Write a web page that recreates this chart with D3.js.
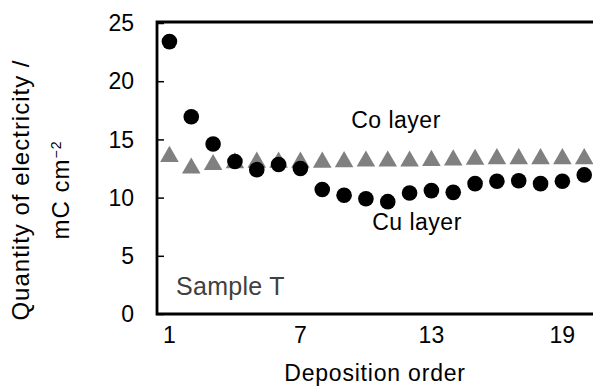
<!DOCTYPE html>
<html>
<head>
<meta charset="utf-8">
<script src="https://cdn.jsdelivr.net/npm/d3@7"></script>
<style>
  body { margin: 0; background: #fff; }
  svg { display: block; font-family: 'Liberation Sans', Arial, sans-serif; }
</style>
</head>
<body>
<div id="chartFrame"></div>
<script>
// deposition order 1..20
const order = d3.range(1, 21)
// Cu layer (black circles)
const cuLayer = [23.4, 16.95, 14.6, 13.1, 12.4, 12.85, 12.5, 10.7, 10.2, 9.9,
  9.65, 10.4, 10.6, 10.45, 11.2, 11.4, 11.45, 11.2, 11.4, 11.95]
// Co layer (grey triangles)
const coLayer = [13.7, 12.7, 13.0, 13.15, 13.2, 13.2, 13.2, 13.2, 13.25, 13.3,
  13.3, 13.3, 13.35, 13.4, 13.45, 13.5, 13.5, 13.5, 13.5, 13.5]
const yTicks = [0, 5, 10, 15, 20, 25]
const xTicks = [1, 7, 13, 19]

const W = 593
const H = 388
const margin = { top: 23, left: 157, bottom: 74 }

const svg = d3.select('#chartFrame').append('svg')
  .attr('width', W)
  .attr('height', H)

const xScale = d3.scaleLinear()
  .domain([0.43, 20.9])
  .range([margin.left, margin.left + (20.9 - 0.43) * 21.83])
const yScale = d3.scaleLinear()
  .domain([0, 25])
  .range([H - margin.bottom, margin.top])

// y axis with inward ticks
let yaxis = svg.append('g')
  .attr('transform', `translate(${margin.left},0)`)
  .call(d3.axisRight(yScale).tickValues(yTicks).tickSize(7).tickFormat(''))
yaxis.select('.domain').remove()
yaxis.selectAll('line').attr('stroke', '#000').attr('stroke-width', 1.5)

svg.append('g')
  .selectAll('text')
  .data(yTicks)
  .enter()
  .append('text')
  .attr('x', margin.left - 23)
  .attr('y', d => yScale(d))
  .attr('dy', '0.36em')
  .attr('text-anchor', 'end')
  .style('font-size', '23px')
  .text(d => d)

svg.append('g')
  .selectAll('text')
  .data(xTicks)
  .enter()
  .append('text')
  .attr('x', d => xScale(d))
  .attr('y', 343)
  .attr('text-anchor', 'middle')
  .style('font-size', '23px')
  .text(d => d)

// frame: left, top, bottom
const x0 = xScale.range()[0]
const x1 = W + 5
const yT = yScale(25) - 1
const yB = yScale(0)
svg.append('path')
  .attr('d', `M${x1},${yT}H${x0}V${yB}H${x1}`)
  .attr('fill', 'none')
  .attr('stroke', '#000')
  .attr('stroke-width', 2.8)

// triangles
svg.append('g')
  .selectAll('path')
  .data(order)
  .enter()
  .append('path')
  .attr('d', d3.symbol().type(d3.symbolTriangle).size(150))
  .attr('transform', (d, i) => `translate(${xScale(d)},${yScale(coLayer[i]) + 2})`)
  .attr('fill', '#808080')

// circles
svg.append('g')
  .selectAll('circle')
  .data(order)
  .enter()
  .append('circle')
  .attr('cx', d => xScale(d))
  .attr('cy', (d, i) => yScale(cuLayer[i]))
  .attr('r', 7.8)
  .attr('fill', '#000')

// annotations
svg.append('text')
  .attr('x', 396).attr('y', 128)
  .attr('text-anchor', 'middle')
  .style('font-size', '23px')
  .style('letter-spacing', '0.5px')
  .text('Co layer')
svg.append('text')
  .attr('x', 417).attr('y', 230)
  .attr('text-anchor', 'middle')
  .style('font-size', '23px')
  .style('letter-spacing', '0.5px')
  .text('Cu layer')
svg.append('text')
  .attr('x', 176).attr('y', 295)
  .style('font-size', '25px')
  .style('letter-spacing', '0.3px')
  .style('fill', '#404040')
  .text('Sample T')

// axis titles
svg.append('text')
  .attr('x', 375).attr('y', 381)
  .attr('text-anchor', 'middle')
  .style('font-size', '23px')
  .style('letter-spacing', '0.8px')
  .text('Deposition order')

let ylab = svg.append('g')
  .attr('transform', 'translate(0,190) rotate(-90)')
ylab.append('text')
  .attr('x', 0).attr('y', 29)
  .attr('text-anchor', 'middle')
  .style('font-size', '24px')
  .style('letter-spacing', '1px')
  .text('Quantity of electricity /')
let l2 = ylab.append('text')
  .attr('x', 0).attr('y', 69)
  .attr('text-anchor', 'middle')
  .style('font-size', '24px')
  .style('letter-spacing', '1px')
l2.append('tspan').text('mC cm')
l2.append('tspan').attr('dy', '-0.55em').style('font-size', '14px').text('−2')
</script>
</body>
</html>
